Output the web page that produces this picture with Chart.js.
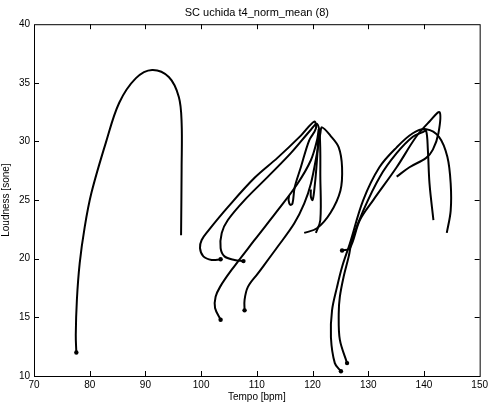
<!DOCTYPE html>
<html>
<head>
<meta charset="utf-8">
<script src="https://cdn.jsdelivr.net/npm/chart.js@4"></script>
<style>
  html, body { margin: 0; padding: 0; background: #fff; }
  #wrap { width: 491px; height: 406px; }
</style>
</head>
<body>
<div id="wrap"><canvas id="chart" width="491" height="406"></canvas></div>
<script>
/* ===== DATA: [tempo bpm, loudness sone], first point is the start dot ===== */
const curve1 = [[77.6,12],[77.5,13.5],[77.7,16.5],[78.2,19.6],[79.1,22.7],[80.3,25.6],[82.9,29.9],[85.3,33.3],
    [88.3,35.4],[91.2,36.1],[94.2,35.5],[96,33.8],[96.5,31.6],[96.5,27.8],[96.4,22]];

const curve2 = [[103.5,19.95],[101.9,19.9],[100.4,20.2],[99.8,20.9],[100.1,21.6],[101.3,22.4],[104.8,24.4],
    [109.6,26.9],[113.7,28.6],[117.9,30.5],[120.3,31.7],[120.6,31.1],[119.4,30.1],[117.9,27.8],[116.8,26.1],
    [116.4,24.7],[116,24.6],[115.7,25],[115.8,25.4]];

const curve3 = [[107.6,19.8],[106,19.9],[104.2,20.2],[103.5,20.9],[103.7,22.2],[104.8,23.3],[107.8,25],
    [112,27],[116.1,29],[119.7,31],[120.8,31.5],[121.3,30.5],[121.4,27],[121.4,23.3],[120.6,22.2]];

const curve4 = [[103.5,14.8],[102.5,15.8],[102.6,16.75],[103.4,17.6],[105.4,19],[109.6,21.6],[113.7,24.1],
    [117.3,26.4],[119.7,28.4],[120.8,30.1],[121.1,31],[120.7,27.8],[120.3,25.8],[120,25],[119.7,25.3],[119.7,25.9]];

const curve5 = [[107.8,15.6],[107.8,16.5],[108.4,17.6],[110.2,18.75],[113.7,21],[116.7,23],[118.5,24.7],
    [119.7,26.4],[120.8,29],[121.4,30.7],[121.7,31.2],[123.2,30.5],[124.7,29.5],[125.3,27.8],[125,25.8],
    [123.2,23.9],[120.8,22.6],[118.5,22.2]];

const curve6 = [[125.3,20.7],[126.7,20.9],[128.5,23.3],[130.9,25],[135.1,27.8],[138.6,30.4],[141,31.7],
    [142.8,32.5],[142.6,30.7],[141.6,29.3],[140.4,28.6],[137.4,27.8],[135.1,27]];

const curve7 = [[126.2,11.1],[124.9,13.1],[124.7,15.3],[124.9,16.75],[125.6,18.5],[126.5,20.2],[127.1,21.6],
    [129.1,24.1],[132.1,27],[135.1,29],[138,30.4],[139.8,30.8],[140.4,30.9],[140.7,29.3],[141,26.4],[141.7,23.3]];

const curve8 = [[125.1,10.4],[124,11.1],[123.3,13.3],[123.5,15.6],[124.4,17.6],[125.3,19.3],[126.7,21.3],
    [129.1,25],[132,27.8],[135.1,29.5],[138,30.7],[140.4,31.05],[142.7,30.4],[144.2,28.7],[144.8,26.4],
    [144.8,24.1],[144.1,22.2]];

const curves = [curve1, curve2, curve3, curve4, curve5, curve6, curve7, curve8];

const xTicks = [70, 80, 90, 100, 110, 120, 130, 140, 150];
const yTicks = [10, 15, 20, 25, 30, 35, 40];

const FONT = "'Liberation Sans', Arial, Helvetica, sans-serif";

/* ===== MATLAB STYLE BOX + INWARD TICKS ===== */
const boxPlugin = {
    id: "box",
    afterDraw(chart) {
        const {ctx, chartArea: a, scales} = chart;
        ctx.save();
        ctx.strokeStyle = "#000";
        ctx.lineWidth = 1;
        ctx.strokeRect(a.left + 0.5, a.top + 0.5, a.right - a.left, a.bottom - a.top);
        ctx.beginPath();
        xTicks.slice(1, -1).forEach(v => {
            const px = Math.round(scales.x.getPixelForValue(v)) + 0.5;
            ctx.moveTo(px, a.bottom); ctx.lineTo(px, a.bottom - 5);
            ctx.moveTo(px, a.top); ctx.lineTo(px, a.top + 5);
        });
        yTicks.slice(1, -1).forEach(v => {
            const py = Math.round(scales.y.getPixelForValue(v)) + 0.5;
            ctx.moveTo(a.left, py); ctx.lineTo(a.left + 5, py);
            ctx.moveTo(a.right, py); ctx.lineTo(a.right - 5, py);
        });
        ctx.stroke();
        ctx.restore();
    }
};

new Chart(document.getElementById("chart"), {
    type: "scatter",
    data: {
        datasets: curves.map(c => ({
            data: c.map(p => ({x: p[0], y: p[1]})),
            showLine: true,
            borderColor: "#000",
            borderWidth: 2,
            tension: 0.35,
            pointRadius: (ctx) => ctx.dataIndex === 0 ? 2.2 : 0,
            pointBackgroundColor: "#000",
            pointBorderColor: "#000",
            pointBorderWidth: 0
        }))
    },
    options: {
        responsive: false,
        animation: false,
        layout: {padding: {top: 1, right: 6, left: 0, bottom: 0}},
        plugins: {
            legend: {display: false},
            tooltip: {enabled: false},
            title: {
                display: true,
                text: "SC uchida t4_norm_mean (8)",
                color: "#000",
                fullSize: false,
                font: {family: FONT, size: 11, weight: "normal"},
                padding: {top: 5, bottom: 5}
            }
        },
        scales: {
            x: {
                type: "linear",
                min: 70, max: 150,
                afterBuildTicks: s => { s.ticks = xTicks.map(v => ({value: v})); },
                afterFit: s => { s.height = 30; },
                grid: {display: false, drawTicks: false},
                border: {display: false},
                ticks: {color: "#000", padding: 3, maxRotation: 0, font: {family: FONT, size: 10}},
                title: {display: true, text: "Tempo [bpm]", color: "#000",
                    font: {family: FONT, size: 10}, padding: {top: 0, bottom: 3}}
            },
            y: {
                type: "linear",
                min: 10, max: 40,
                afterBuildTicks: s => { s.ticks = yTicks.map(v => ({value: v})); },
                afterFit: s => { s.width = 34; },
                grid: {display: false, drawTicks: false},
                border: {display: false},
                ticks: {color: "#000", padding: 4, font: {family: FONT, size: 10}},
                title: {display: true, text: "Loudness [sone]", color: "#000",
                    font: {family: FONT, size: 10}, padding: {top: 0, bottom: 0}}
            }
        }
    },
    plugins: [boxPlugin]
});
</script>
</body>
</html>
